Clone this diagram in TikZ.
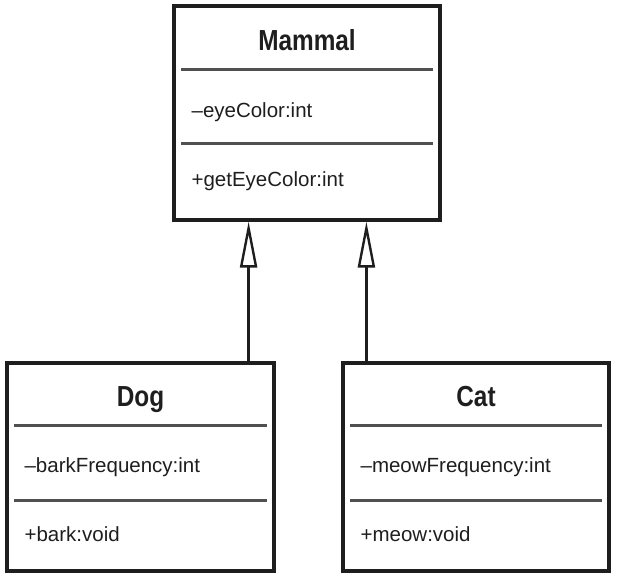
\documentclass[tikz,border=0pt]{standalone}
\usepackage{fontspec}
\setmainfont{Liberation Sans}
\newfontfamily\clsfont[FakeStretch=0.84]{Liberation Sans}
\usepackage{tikz}
\usetikzlibrary{arrows.meta}
\definecolor{inkdark}{RGB}{30,30,30}
\definecolor{sepgray}{RGB}{80,80,80}

\begin{document}
\begin{tikzpicture}[x=1pt,y=1pt,
  cls/.style={draw=inkdark,line width=3.2pt,minimum width=266pt,inner sep=0pt},
  ttl/.style={font=\clsfont\bfseries\fontsize{29}{32}\selectfont,text=inkdark,anchor=base,inner sep=0pt},
  mbr/.style={font=\fontsize{20.5}{24}\selectfont,text=inkdark,anchor=base west,inner sep=0pt},
  sep/.style={draw=sepgray,line width=2.3pt},
  gen/.style={draw=inkdark,line width=2.4pt,-{Triangle[open,length=46pt,width=17pt]}}]
  \useasboundingbox (0,0) rectangle (618,576);
  % superclass
  \node[cls,minimum height=214pt] (mammal) at (307,463) {};
  \node[ttl] (mammalT) at ([yshift=-46pt]mammal.north) {Mammal};
  \draw[sep] ([xshift=9pt,yshift=-65pt]mammal.north west) -- ([xshift=-9pt,yshift=-65pt]mammal.north east);
  \node[mbr] (mammalA) at ([xshift=19pt,yshift=-113pt]mammal.north west) {–eyeColor:int};
  \draw[sep] ([xshift=9pt,yshift=-139pt]mammal.north west) -- ([xshift=-9pt,yshift=-139pt]mammal.north east);
  \node[mbr] (mammalO) at ([xshift=19pt,yshift=-182pt]mammal.north west) {+getEyeColor:int};
  % subclasses
  \node[cls,minimum height=208pt,minimum width=267pt] (dog) at (140.5,109) {};
  \node[ttl] (dogT) at ([yshift=-45pt]dog.north) {Dog};
  \draw[sep] ([xshift=9pt,yshift=-64pt]dog.north west) -- ([xshift=-9pt,yshift=-64pt]dog.north east);
  \node[mbr] (dogA) at ([xshift=19pt,yshift=-111pt]dog.north west) {–barkFrequency:int};
  \draw[sep] ([xshift=9pt,yshift=-139pt]dog.north west) -- ([xshift=-9pt,yshift=-139pt]dog.north east);
  \node[mbr] (dogO) at ([xshift=19pt,yshift=-180pt]dog.north west) {+bark:void};
  \node[cls,minimum height=208pt] (cat) at (476,109) {};
  \node[ttl] (catT) at ([yshift=-45pt]cat.north) {Cat};
  \draw[sep] ([xshift=9pt,yshift=-64pt]cat.north west) -- ([xshift=-9pt,yshift=-64pt]cat.north east);
  \node[mbr] (catA) at ([xshift=19pt,yshift=-111pt]cat.north west) {–meowFrequency:int};
  \draw[sep] ([xshift=9pt,yshift=-139pt]cat.north west) -- ([xshift=-9pt,yshift=-139pt]cat.north east);
  \node[mbr] (catO) at ([xshift=19pt,yshift=-180pt]cat.north west) {+meow:void};
  % generalisation
  \draw[gen] ([xshift=-27pt]dog.north east) -- ([xshift=-27pt]dog.north east |- mammal.south);
  \draw[gen] ([xshift=25pt]cat.north west) -- ([xshift=25pt]cat.north west |- mammal.south);
\end{tikzpicture}
\end{document}
